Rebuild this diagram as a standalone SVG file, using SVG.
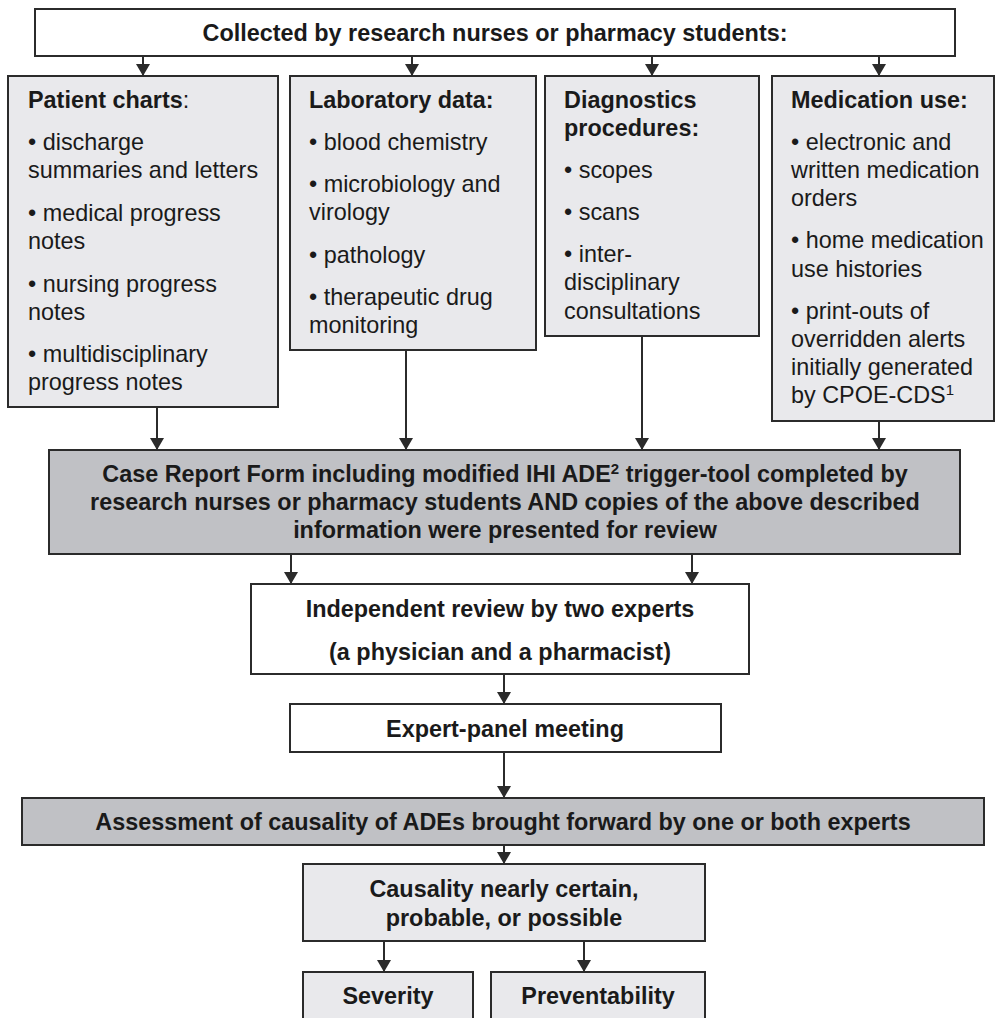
<svg xmlns="http://www.w3.org/2000/svg" width="996" height="1018" viewBox="0 0 996 1018">
<style>
  text { font-family: "Liberation Sans", Arial, sans-serif; font-size: 23.4px; fill: #1a1a1a; }
  .b { font-weight: bold; }
  .m { text-anchor: middle; }
  .box { stroke: #2b2b2b; stroke-width: 2; }
  .white { fill: #ffffff; }
  .light { fill: #e9e9ec; }
  .dark { fill: #c0c1c5; }
  .conn line { stroke: #2b2b2b; stroke-width: 2; marker-end: url(#ah); }
  .sup { font-size: 15px; }
</style>
<defs>
  <marker id="ah" markerUnits="userSpaceOnUse" markerWidth="16" markerHeight="14" refX="12" refY="7" orient="auto">
    <path d="M0,0 L12,7 L0,14 Z" fill="#2b2b2b"/>
  </marker>
</defs>
<rect width="996" height="1018" fill="#ffffff"/>

<g id="connectors" class="conn">
  <line x1="143" y1="56" x2="143" y2="76"/>
  <line x1="412" y1="56" x2="412" y2="76"/>
  <line x1="652" y1="56" x2="652" y2="76"/>
  <line x1="879" y1="56" x2="879" y2="76"/>
  <line x1="157" y1="407" x2="157" y2="450"/>
  <line x1="406" y1="350" x2="406" y2="450"/>
  <line x1="642" y1="336" x2="642" y2="450"/>
  <line x1="879" y1="421" x2="879" y2="450"/>
  <line x1="291" y1="554" x2="291" y2="584"/>
  <line x1="692" y1="554" x2="692" y2="584"/>
  <line x1="504" y1="674" x2="504" y2="704"/>
  <line x1="504" y1="752" x2="504" y2="798"/>
  <line x1="504" y1="845" x2="504" y2="864"/>
  <line x1="384" y1="941" x2="384" y2="972"/>
  <line x1="584" y1="941" x2="584" y2="972"/>
</g>

<g id="collected">
  <rect class="box white" x="35" y="9" width="920" height="47"/>
  <text class="b m" x="495" y="41">Collected by research nurses or pharmacy students:</text>
</g>

<g id="patient-charts">
  <rect class="box light" x="8" y="76" width="270" height="331"/>
  <text x="28" y="108"><tspan class="b">Patient charts</tspan>:</text>
  <text x="28" y="150">• discharge</text>
  <text x="28" y="178">summaries and letters</text>
  <text x="28" y="221">• medical progress</text>
  <text x="28" y="249">notes</text>
  <text x="28" y="292">• nursing progress</text>
  <text x="28" y="320">notes</text>
  <text x="28" y="362">• multidisciplinary</text>
  <text x="28" y="390">progress notes</text>
</g>

<g id="laboratory-data">
  <rect class="box light" x="290" y="76" width="246" height="274"/>
  <text class="b" x="309" y="108">Laboratory data:</text>
  <text x="309" y="150">• blood chemistry</text>
  <text x="309" y="192">• microbiology and</text>
  <text x="309" y="220">virology</text>
  <text x="309" y="263">• pathology</text>
  <text x="309" y="305">• therapeutic drug</text>
  <text x="309" y="333">monitoring</text>
</g>

<g id="diagnostics">
  <rect class="box light" x="545" y="76" width="214" height="260"/>
  <text class="b" x="564" y="108">Diagnostics</text>
  <text class="b" x="564" y="136">procedures:</text>
  <text x="564" y="178">• scopes</text>
  <text x="564" y="220">• scans</text>
  <text x="564" y="262">• inter-</text>
  <text x="564" y="290">disciplinary</text>
  <text x="564" y="319">consultations</text>
</g>

<g id="medication-use">
  <rect class="box light" x="772" y="76" width="222" height="345"/>
  <text class="b" x="791" y="108">Medication use:</text>
  <text x="791" y="150">• electronic and</text>
  <text x="791" y="178">written medication</text>
  <text x="791" y="206">orders</text>
  <text x="791" y="248">• home medication</text>
  <text x="791" y="277">use histories</text>
  <text x="791" y="319">• print-outs of</text>
  <text x="791" y="347">overridden alerts</text>
  <text x="791" y="375">initially generated</text>
  <text x="791" y="403">by CPOE-CDS<tspan class="sup" dy="-8">1</tspan></text>
</g>

<g id="case-report-form">
  <rect class="box dark" x="49" y="450" width="911" height="104"/>
  <text class="b m" x="505" y="482">Case Report Form including modified IHI ADE<tspan class="sup" dy="-8">2</tspan><tspan dy="8"> trigger-tool completed by</tspan></text>
  <text class="b m" x="505" y="510">research nurses or pharmacy students AND copies of the above described</text>
  <text class="b m" x="505" y="538">information were presented for review</text>
</g>

<g id="independent-review">
  <rect class="box white" x="251" y="584" width="498" height="90"/>
  <text class="b m" x="500" y="617">Independent review by two experts</text>
  <text class="b m" x="500" y="660">(a physician and a pharmacist)</text>
</g>

<g id="expert-panel">
  <rect class="box white" x="290" y="704" width="431" height="48"/>
  <text class="b m" x="505" y="737">Expert-panel meeting</text>
</g>

<g id="assessment">
  <rect class="box dark" x="22" y="798" width="962" height="47"/>
  <text class="b m" x="503" y="830">Assessment of causality of ADEs brought forward by one or both experts</text>
</g>

<g id="causality">
  <rect class="box light" x="303" y="864" width="402" height="77"/>
  <text class="b m" x="504" y="897">Causality nearly certain,</text>
  <text class="b m" x="504" y="926">probable, or possible</text>
</g>

<g id="severity">
  <rect class="box light" x="303" y="972" width="170" height="60"/>
  <text class="b m" x="388" y="1004">Severity</text>
</g>

<g id="preventability">
  <rect class="box light" x="491" y="972" width="214" height="60"/>
  <text class="b m" x="598" y="1004">Preventability</text>
</g>
</svg>
